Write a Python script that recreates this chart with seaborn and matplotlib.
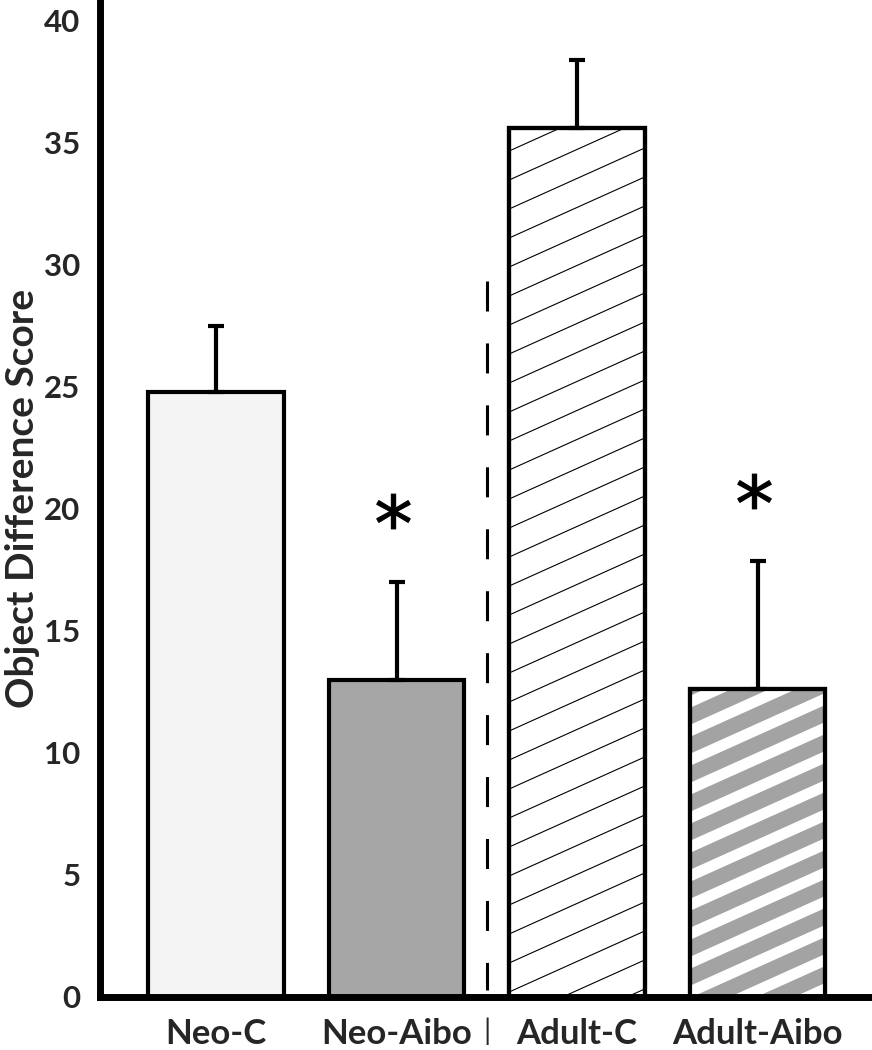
import numpy as np
import pandas as pd
import seaborn as sns
import matplotlib.pyplot as plt
from matplotlib.patches import Rectangle

groups = ["Neo-C", "Neo-Aibo", "Adult-C", "Adult-Aibo"]
means = [24.8, 13.0, 35.6, 12.6]
sems = [2.7, 4.0, 2.8, 5.25]
significant = [False, True, False, True]
y_ticks = [0, 5, 10, 15, 20, 25, 30, 35, 40]

df = pd.DataFrame({"group": groups, "score": means, "sem": sems})

sns.set_style("white")
plt.rcParams["font.family"] = ["Lato", "DejaVu Sans"]
plt.rcParams["lines.scale_dashes"] = False

fig = plt.figure(figsize=(8.72, 10.5), dpi=100)
ax = fig.add_axes([0.1147, 0.0505, 0.8853, 0.9495])

fills = ["#f4f4f4", "#a6a6a6", "#ffffff", "#a3a3a3"]
sns.barplot(data=df, x="group", y="score", hue="group", order=groups, hue_order=groups,
            palette=fills, saturation=1, width=0.75, errorbar=None, legend=False,
            edgecolor="black", linewidth=3, ax=ax)

ax.set_xlim(-0.643, 3.634)
ax.set_ylim(0, 40.85)

bars = list(ax.patches)
centers = [p.get_x() + p.get_width() / 2 for p in bars]

# upper-only error bars
ax.errorbar(centers, df["score"], yerr=[np.zeros(len(sems)), df["sem"]], fmt="none",
            ecolor="black", elinewidth=3, capsize=5.8, capthick=3, zorder=1)


def stripe(patch, color, lw, gap_px=29, slope=0.45):
    # diagonal stripes in pixel space, clipped to the bar
    x0, y0 = ax.transData.transform((patch.get_x(), patch.get_y()))
    x1, y1 = ax.transData.transform((patch.get_x() + patch.get_width(),
                                     patch.get_y() + patch.get_height()))
    inv = ax.transData.inverted()
    c = -slope * (x1 - x0) + 8
    while c < (y1 - y0):
        p = inv.transform([(x0, y0 + c), (x1, y0 + c + slope * (x1 - x0))])
        ln, = ax.plot(p[:, 0], p[:, 1], color=color, lw=lw, solid_capstyle="butt",
                      zorder=patch.get_zorder() + 0.1)
        ln.set_clip_path(patch)
        c += gap_px
    ax.add_patch(Rectangle(patch.get_xy(), patch.get_width(), patch.get_height(),
                           fill=False, ec="black", lw=3, zorder=patch.get_zorder() + 0.2))


stripe(bars[2], "black", 0.8)
stripe(bars[3], "white", 7.9)

# significance asterisks
for x, m, s, sig in zip(centers, means, sems, significant):
    if sig:
        ax.plot(x - 0.02, m + s + 2.9, marker="$*$", color="black", markersize=25,
                markeredgewidth=0.8)

# dashed separator between age groups
x_sep = (centers[1] + centers[2]) / 2
ax.plot([x_sep, x_sep], [29.35, 0.3], color="black", lw=2.2, dashes=(21.6, 23))

ax.set_xticks(centers[:2] + [x_sep] + centers[2:])
ax.set_xticklabels(groups[:2] + ["|"] + groups[2:], fontsize=25, fontweight="bold")
sep_label = ax.get_xticklabels()[2]
sep_label.set_fontweight("normal")
sep_label.set_fontsize(21)
ax.set_yticks(y_ticks)
ax.set_yticklabels([str(t) for t in y_ticks], fontsize=22.5, fontweight="bold")
ax.tick_params(axis="x", length=0, pad=15)
ax.tick_params(axis="y", direction="in", length=4, width=0.6, color="#cccccc", pad=14)
ax.set_xlabel("")
ax.set_ylabel("Object Difference Score", fontsize=28, fontweight="bold", labelpad=3)

for side in ["top", "right"]:
    ax.spines[side].set_visible(False)
for side in ["left", "bottom"]:
    ax.spines[side].set_linewidth(5)
    ax.spines[side].set_color("black")

fig.savefig("out.png", dpi=100)
